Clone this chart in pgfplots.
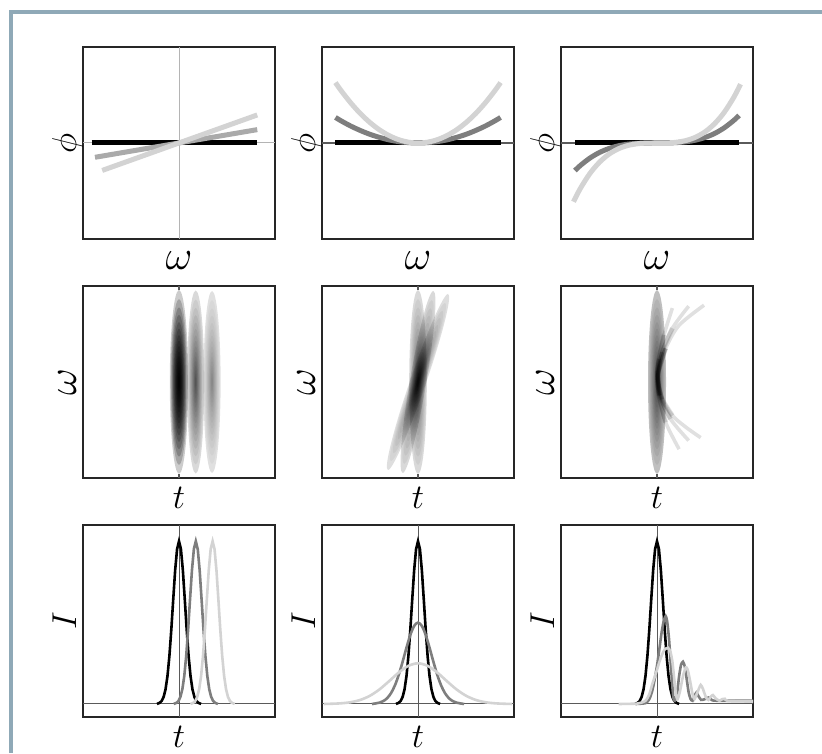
\documentclass[border=0pt]{standalone}
\usepackage{pgfplots}
\pgfplotsset{compat=1.18}
\usepackage{pgfplotstable}
\definecolor{framec}{HTML}{8FA9B7}
\definecolor{midg}{HTML}{AAAAAA}
\definecolor{darkg}{HTML}{7E7E7E}
\definecolor{lightg}{HTML}{D3D3D3}
\definecolor{refg}{HTML}{5A5A5A}
\definecolor{reflight}{HTML}{B4B4B4}

\pgfdeclareplotmark{blob}{\pgfpathcircle{\pgfpointorigin}{\pgfplotmarksize}\pgfusepathqfill}
\newcommand\bigw{{\fontsize{20.74}{22}\selectfont$\omega$}}

\pgfplotsset{
  panel/.style={
    scale only axis, width=96pt, height=96pt,
    xmin=-1, xmax=1, ymin=-1, ymax=1,
    ticks=none, anchor=south west,
    axis line style={black!85, line width=0.7pt},
    label style={font=\fontsize{17.28}{20}\selectfont},
    xlabel style={at={([yshift=-15.25pt]axis description cs:0.5,0)}, anchor=base, inner sep=0pt},
    ylabel style={at={([xshift=-3.5pt]axis description cs:0,0.5)}, anchor=base, inner sep=0pt},
  },
  blob/.style={
    only marks, scatter, mark=blob, black,
    point meta=y, point meta min=-1, point meta max=1,
    visualization depends on={\thisrow{rx}\as\brx},
    visualization depends on={\thisrow{ry}\as\bry},
    visualization depends on={\thisrow{s}\as\bs},
    visualization depends on={\thisrow{#1}\as\ba},
    scatter/@pre marker code/.code={\pgfscope\pgfsetfillcolor{black}\pgfsetfillopacity{\ba}\pgftransformcm{\brx}{0}{\bs}{\bry}{\pgfpointorigin}},
    scatter/@post marker code/.code={\endpgfscope},
  },
  thick1/.style={line width=2.5pt, no markers},
  strand/.style={black, draw opacity=0.12, line width=1.8pt, smooth, no markers},
  strandmid/.style={black, draw opacity=0.12, line width=2.4pt, smooth, no markers},
  strandcore/.style={black, draw opacity=0.2, line width=2pt, smooth, no markers},
  pulse/.style={line width=1.3pt, no markers},
}

% blob tables: centre (x,y), radii rx, ry (pt), shear s (pt at the top),
% opacity of the outer level b and of each inner level a
\pgfplotstableread{
x y rx ry s b a
0 0 4.6 46 0 0.2 0.197
0.174 0 4.3 45.75 0 0.15 0.0574
0.344 0 4.3 45.5 0 0.12 0.0332
}\tbA
\pgfplotstableread{
x y rx ry s b a
0 0 4.4 46 0 0.15 0.049
0 0 4.2 45.5 7.65 0.15 0.049
0 0 4.2 44 15 0.13 0.043
}\tbB
\pgfplotstableread{
x y rx ry s b a
0 0 4.5 46 0 0.25 0.0593
}\tbC

\newcommand\drawblobs[1]{%
  \addplot[blob=b, mark size=1pt] table {#1};
  \pgfplotsinvokeforeach{0.9,0.81,0.73,0.65,0.58,0.51,0.45,0.39,0.33,0.28,0.23,0.18,0.13,0.09,0.05}{%
    \addplot[blob=a, mark size=##1pt] table {#1};
  }%
}

\begin{document}
\begin{tikzpicture}
\useasboundingbox (0,0) rectangle (411pt,376.5pt);
\fill[white] (0,0) rectangle (411pt,376.5pt);
\draw[framec, line width=2pt] (5.25pt,0) -- (5.25pt,370.35pt) -- (411pt,370.35pt);

% ---------------- Row 1: spectral phase ----------------
\begin{axis}[panel, at={(41.5pt,257pt)}, xlabel={\bigw}, ylabel={$\phi$}]
\addplot[reflight, line width=0.5pt] coordinates {(-1,0)(1,0)};
\addplot[reflight, line width=0.5pt] coordinates {(0,-1)(0,1)};
\addplot[black, thick1] coordinates {(-0.91,0)(0.815,0)};
\addplot[midg, thick1] coordinates {(-0.875,-0.149)(0.815,0.139)};
\addplot[lightg, thick1] coordinates {(-0.80,-0.286)(0.815,0.292)};
\end{axis}

\begin{axis}[panel, at={(161pt,257pt)}, xlabel={\bigw}, ylabel={$\phi$}]
\addplot[refg, line width=0.6pt] coordinates {(-1,0)(1,0)};
\addplot[black, thick1] coordinates {(-0.86,0)(0.86,0)};
\addplot[darkg, thick1, smooth] coordinates {(-0.86,0.266)(-0.8,0.23)(-0.7,0.176)(-0.6,0.13)(-0.5,0.09)(-0.4,0.058)(-0.3,0.032)(-0.2,0.014)(-0.1,0.004)(0,0)(0.1,0.004)(0.2,0.014)(0.3,0.032)(0.4,0.058)(0.5,0.09)(0.6,0.13)(0.7,0.176)(0.8,0.23)(0.86,0.266)};
\addplot[lightg, thick1, smooth] coordinates {(-0.86,0.629)(-0.8,0.544)(-0.7,0.417)(-0.6,0.306)(-0.5,0.2125)(-0.4,0.136)(-0.3,0.0765)(-0.2,0.034)(-0.1,0.0085)(0,0)(0.1,0.0085)(0.2,0.034)(0.3,0.0765)(0.4,0.136)(0.5,0.2125)(0.6,0.306)(0.7,0.417)(0.8,0.544)(0.86,0.629)};
\end{axis}

\begin{axis}[panel, at={(280.5pt,257pt)}, xlabel={\bigw}, ylabel={$\phi$}]
\addplot[refg, line width=0.6pt] coordinates {(-1,0)(1,0)};
\addplot[black, thick1] coordinates {(-0.855,0)(0.855,0)};
\addplot[darkg, thick1, smooth] coordinates {(-0.855,-0.2875)(-0.8,-0.2355)(-0.7,-0.158)(-0.6,-0.099)(-0.5,-0.0575)(-0.4,-0.029)(-0.3,-0.012)(-0.2,-0.0037)(-0.1,-0.0005)(0,0)(0.1,0.0005)(0.2,0.0037)(0.3,0.012)(0.4,0.029)(0.5,0.0575)(0.6,0.099)(0.7,0.158)(0.8,0.2355)(0.855,0.2875)};
\addplot[lightg, thick1, smooth] coordinates {(-0.87,-0.612)(-0.8,-0.476)(-0.7,-0.319)(-0.6,-0.201)(-0.5,-0.116)(-0.4,-0.0595)(-0.3,-0.0251)(-0.2,-0.0074)(-0.1,-0.0009)(0,0)(0.1,0.0009)(0.2,0.0074)(0.3,0.0251)(0.4,0.0595)(0.5,0.116)(0.6,0.201)(0.7,0.319)(0.8,0.476)(0.87,0.612)};
\end{axis}

% ---------------- Row 2: time-frequency ----------------
\begin{axis}[panel, at={(41.5pt,137.5pt)}, xlabel={$t$}, ylabel={\bigw}]
\addplot[refg, line width=0.6pt] coordinates {(0,0.955)(0,1)};
\addplot[refg, line width=0.6pt] coordinates {(0,-1)(0,-0.955)};
\drawblobs{\tbA}
\end{axis}

\begin{axis}[panel, at={(161pt,137.5pt)}, xlabel={$t$}, ylabel={\bigw}]
\addplot[refg, line width=0.6pt] coordinates {(0,0.955)(0,1)};
\addplot[refg, line width=0.6pt] coordinates {(0,-1)(0,-0.955)};
\drawblobs{\tbB}
\end{axis}

\begin{axis}[panel, at={(280.5pt,137.5pt)}, xlabel={$t$}, ylabel={\bigw}]
\addplot[refg, line width=0.6pt] coordinates {(0,0.955)(0,1)};
\addplot[refg, line width=0.6pt] coordinates {(0,-1)(0,-0.955)};
\drawblobs{\tbC}
\addplot[strand] coordinates {(0.16,0.77)(0.073,0.49)(0.02,0.24)(0.0,0.07)(0.02,-0.14)(0.09,-0.42)(0.23,-0.70)};
\addplot[strand] coordinates {(0.33,0.79)(0.16,0.56)(0.055,0.31)(0.01,0.08)(0.03,-0.14)(0.14,-0.385)(0.33,-0.61)};
\addplot[strand] coordinates {(0.49,0.80)(0.229,0.59)(0.09,0.35)(0.014,0.10)(0.02,-0.04)(0.055,-0.18)(0.16,-0.35)(0.30,-0.47)(0.455,-0.58)};
\addplot[strandmid] coordinates {(0.073,0.49)(0.02,0.24)(0.0,0.07)(0.02,-0.14)(0.09,-0.42)};
\addplot[strandmid] coordinates {(0.16,0.56)(0.055,0.31)(0.01,0.08)(0.03,-0.14)(0.14,-0.385)};
\addplot[strandmid] coordinates {(0.09,0.35)(0.014,0.10)(0.02,-0.04)(0.055,-0.18)(0.16,-0.35)};
\addplot[strandcore] coordinates {(0.02,0.24)(0.0,0.07)(0.02,-0.14)};
\addplot[strandcore] coordinates {(0.055,0.31)(0.01,0.08)(0.03,-0.14)};
\addplot[strandcore] coordinates {(0.09,0.35)(0.014,0.10)(0.02,-0.04)(0.055,-0.18)};
\end{axis}

% ---------------- Row 3: temporal intensity ----------------
\begin{axis}[panel, at={(41.5pt,18pt)}, ymin=-0.08, ymax=1.1, xlabel={$t$}, ylabel={$I$}]
\addplot[refg, line width=0.5pt] coordinates {(-1,0)(1,0)};
\addplot[refg, line width=0.5pt] coordinates {(0,-0.08)(0,1.1)};
\addplot[black, pulse] coordinates {(-0.23,0)(-0.2,0.0076)(-0.18,0.019)(-0.16,0.044)(-0.14,0.091)(-0.12,0.172)(-0.1,0.295)(-0.08,0.458)(-0.06,0.644)(-0.04,0.823)(-0.02,0.952)(0,1)(0.02,0.952)(0.04,0.823)(0.06,0.644)(0.08,0.458)(0.1,0.295)(0.12,0.172)(0.14,0.091)(0.16,0.044)(0.18,0.019)(0.2,0.0076)(0.23,0)};
\addplot[darkg, pulse] coordinates {(-0.055,0)(-0.025,0.0076)(-0.005,0.019)(0.015,0.044)(0.035,0.091)(0.055,0.172)(0.075,0.295)(0.095,0.458)(0.115,0.644)(0.135,0.823)(0.155,0.952)(0.175,1)(0.195,0.952)(0.215,0.823)(0.235,0.644)(0.255,0.458)(0.275,0.295)(0.295,0.172)(0.315,0.091)(0.335,0.044)(0.355,0.019)(0.375,0.0076)(0.405,0)};
\addplot[lightg, pulse] coordinates {(0.12,0)(0.15,0.0076)(0.17,0.019)(0.19,0.044)(0.21,0.091)(0.23,0.172)(0.25,0.295)(0.27,0.458)(0.29,0.644)(0.31,0.823)(0.33,0.952)(0.35,1)(0.37,0.952)(0.39,0.823)(0.41,0.644)(0.43,0.458)(0.45,0.295)(0.47,0.172)(0.49,0.091)(0.51,0.044)(0.53,0.019)(0.55,0.0076)(0.58,0)};
\end{axis}

\begin{axis}[panel, at={(161pt,18pt)}, ymin=-0.08, ymax=1.1, xlabel={$t$}, ylabel={$I$}]
\addplot[refg, line width=0.5pt] coordinates {(-1,0)(1,0)};
\addplot[refg, line width=0.5pt] coordinates {(0,-0.08)(0,1.1)};
\addplot[black, pulse] coordinates {(-0.23,0)(-0.2,0.0076)(-0.18,0.019)(-0.16,0.044)(-0.14,0.091)(-0.12,0.172)(-0.1,0.295)(-0.08,0.458)(-0.06,0.644)(-0.04,0.823)(-0.02,0.952)(0,1)(0.02,0.952)(0.04,0.823)(0.06,0.644)(0.08,0.458)(0.1,0.295)(0.12,0.172)(0.14,0.091)(0.16,0.044)(0.18,0.019)(0.2,0.0076)(0.23,0)};
\addplot[darkg, pulse, smooth] coordinates {(-0.48,0)(-0.44,0.0036)(-0.4,0.0084)(-0.36,0.0183)(-0.32,0.0367)(-0.28,0.0677)(-0.24,0.1151)(-0.2,0.1802)(-0.16,0.2602)(-0.12,0.3463)(-0.08,0.4245)(-0.04,0.48)(0,0.5)(0.04,0.48)(0.08,0.4245)(0.12,0.3463)(0.16,0.2602)(0.2,0.1802)(0.24,0.1151)(0.28,0.0677)(0.32,0.0367)(0.36,0.0183)(0.4,0.0084)(0.44,0.0036)(0.48,0)};
\addplot[lightg, pulse, smooth] coordinates {(-0.98,0)(-0.9,0.0014)(-0.8,0.0042)(-0.7,0.011)(-0.6,0.0252)(-0.5,0.0508)(-0.4,0.0901)(-0.3,0.1408)(-0.2,0.1937)(-0.1,0.2345)(0,0.25)(0.1,0.2345)(0.2,0.1937)(0.3,0.1408)(0.4,0.0901)(0.5,0.0508)(0.6,0.0252)(0.7,0.011)(0.8,0.0042)(0.9,0.0014)(0.98,0)};
\end{axis}

\begin{axis}[panel, at={(280.5pt,18pt)}, ymin=-0.08, ymax=1.1, xlabel={$t$}, ylabel={$I$}]
\addplot[refg, line width=0.5pt] coordinates {(-1,0)(1,0)};
\addplot[refg, line width=0.5pt] coordinates {(0,-0.08)(0,1.1)};
\addplot[black, pulse] coordinates {(-0.23,0)(-0.2,0.0076)(-0.18,0.019)(-0.16,0.044)(-0.14,0.091)(-0.12,0.172)(-0.1,0.295)(-0.08,0.458)(-0.06,0.644)(-0.04,0.823)(-0.02,0.952)(0,1)(0.02,0.952)(0.04,0.823)(0.06,0.644)(0.08,0.458)(0.1,0.295)(0.12,0.172)(0.14,0.091)(0.16,0.044)(0.18,0.019)(0.2,0.0076)(0.23,0)};
\addplot[darkg, pulse, smooth, tension=0.4] coordinates {(-0.22,0)(-0.12,0.005)(-0.08,0.03)(-0.05,0.08)(-0.025,0.15)(0,0.235)(0.025,0.34)(0.048,0.44)(0.07,0.51)(0.09,0.54)(0.105,0.51)(0.125,0.40)(0.15,0.19)(0.17,0.04)(0.185,0.02)(0.21,0.07)(0.23,0.17)(0.25,0.24)(0.27,0.26)(0.29,0.23)(0.31,0.15)(0.33,0.07)(0.35,0.03)(0.37,0.02)(0.39,0.05)(0.41,0.07)(0.43,0.05)(0.46,0.025)(0.5,0.03)(0.54,0.04)(0.57,0.025)(0.62,0.02)(1.0,0.02)};
\addplot[lightg, pulse, smooth, tension=0.4] coordinates {(-0.4,0)(-0.2,0.003)(-0.12,0.02)(-0.08,0.06)(-0.05,0.12)(0,0.21)(0.02,0.25)(0.05,0.30)(0.08,0.335)(0.115,0.345)(0.14,0.32)(0.16,0.26)(0.18,0.15)(0.2,0.05)(0.215,0.03)(0.24,0.08)(0.27,0.17)(0.3,0.225)(0.32,0.21)(0.345,0.14)(0.37,0.06)(0.39,0.03)(0.42,0.07)(0.455,0.117)(0.48,0.09)(0.51,0.04)(0.535,0.025)(0.56,0.045)(0.582,0.055)(0.61,0.035)(0.65,0.02)(0.68,0.03)(0.706,0.032)(0.74,0.018)(1.0,0.015)};
\end{axis}
\end{tikzpicture}
\end{document}
